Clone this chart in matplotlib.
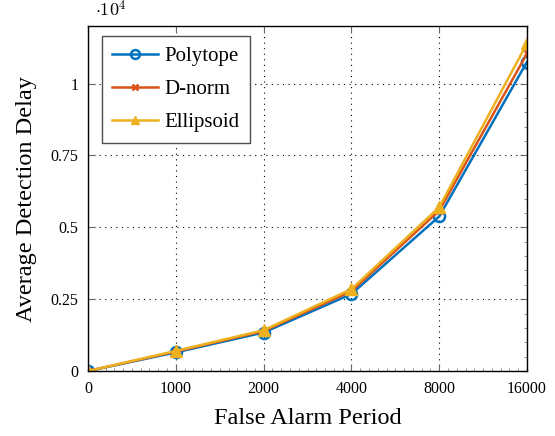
import matplotlib.pyplot as plt
import numpy as np
from matplotlib.ticker import AutoMinorLocator

plt.rcParams['font.family'] = 'Liberation Serif'
plt.rcParams['mathtext.fontset'] = 'cm'

# data
periods = ['0', '1000', '2000', '4000', '8000', '16000']
polytope = [0, 650, 1340, 2680, 5380, 10760]
dnorm = [0, 680, 1390, 2780, 5580, 11050]
ellipsoid = [0, 700, 1420, 2850, 5700, 11400]

x = np.arange(len(periods))

fig = plt.figure(figsize=(5.55, 4.36), dpi=100)
ax = fig.add_axes([0.1586, 0.149, 0.791, 0.791])

ax.plot(x, polytope, color='#0072BD', lw=1.8, marker='o', ms=8,
        mfc='none', mew=1.8, label='Polytope')
ax.plot(x, dnorm, color='#D95319', lw=1.8, marker='x', ms=5,
        mew=1.8, label='D-norm')
ax.plot(x, ellipsoid, color='#EDB120', lw=1.8, marker='^', ms=8,
        label='Ellipsoid')

ax.set_xlim(0, 5)
ax.set_ylim(0, 12000)
ax.set_xticks(x)
ax.set_xticklabels(periods)
ax.set_yticks([0, 2500, 5000, 7500, 10000])
ax.set_yticklabels(['0', '0.25', '0.5', '0.75', '1'])
ax.xaxis.set_minor_locator(AutoMinorLocator(10))
ax.yaxis.set_minor_locator(AutoMinorLocator(5))

ax.tick_params(which='major', direction='in', length=5, color='0.4',
               top=True, right=True, labelsize=11.5, pad=7)
ax.tick_params(which='minor', direction='in', length=2.5, color='0.5',
               bottom=True, top=False, left=False, right=True)
ax.grid(True, which='major', linestyle=(0, (1, 4)), color='k', lw=0.8)
for s in ax.spines.values():
    s.set_linewidth(1.0)

ax.set_xlabel('False Alarm Period', fontsize=17.5, labelpad=8)
ax.set_ylabel('Average Detection Delay', fontsize=17.5, labelpad=10)
ax.text(0.016, 1.017, r'$\cdot 10^4$', transform=ax.transAxes,
        fontsize=13, va='bottom')

leg = ax.legend(loc='upper left', bbox_to_anchor=(0.032, 0.971),
                borderaxespad=0, fontsize=15, fancybox=False,
                edgecolor='0.3', framealpha=1, handlelength=2.2,
                labelspacing=0.65, handletextpad=0.3, borderpad=0.5,
                markerscale=0.8)
leg.get_frame().set_linewidth(1.0)

fig.savefig('out.png', dpi=100)
